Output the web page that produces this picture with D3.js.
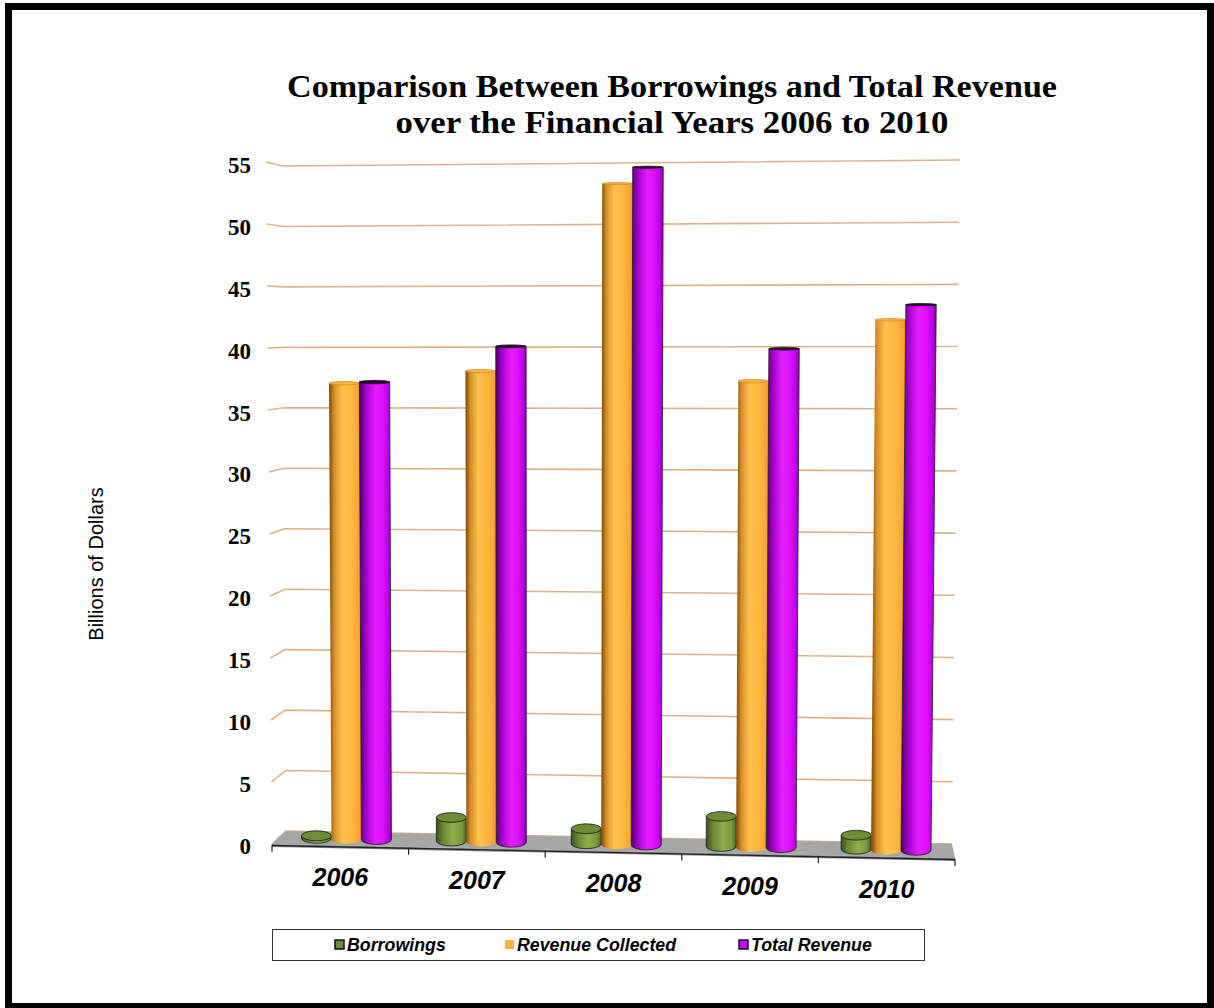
<!DOCTYPE html>
<html>
<head>
<meta charset="utf-8">
<script src="https://cdn.jsdelivr.net/npm/d3@7"></script>
<style>
  body { margin: 0; background: #fff; }
  svg { display: block; }
</style>
</head>
<body>
<div id="container"></div>
<script>
const years = ["2006", "2007", "2008", "2009", "2010"];
const seriesNames = ["Borrowings", "Revenue Collected", "Total Revenue"];
const borrowings = [0.2, 1.9, 1.2, 2.4, 1.1];
const revenueCollected = [37.1, 38.1, 53.2, 37.3, 42.2];
const totalRevenue = [37.2, 40.1, 54.5, 39.9, 43.4];
const yTicks = [0, 5, 10, 15, 20, 25, 30, 35, 40, 45, 50, 55];

const seriesValues = [borrowings, revenueCollected, totalRevenue];

const w = 1214;
const h = 1008;

const svg = d3.select("#container")
  .append("svg")
  .attr("width", w)
  .attr("height", h);

//THE FRAME
svg.append("rect")
  .attr("x", 8.5).attr("y", 6.5)
  .attr("width", 1202).attr("height", 1000)
  .attr("fill", "#fff")
  .attr("stroke", "#000")
  .attr("stroke-width", 7);

//PERSPECTIVE BOX: corners of the plot cube at value 0 and value 55
const corners = {
  fl: [[272, 844], [266, 162]],
  fr: [[955, 858], [961, 157]],
  bl: [[286, 831], [283, 166]],
  br: [[952, 844], [960, 160]]
};
const vScale = d3.scaleLinear().domain([0, 55]).range([0, 1]);
const lerp = (a, b, t) => [a[0] + (b[0] - a[0]) * t, a[1] + (b[1] - a[1]) * t];
// u = left->right (0..1), d = front->back (0..1), v = data value
function proj(u, d, v) {
  const t = vScale(v);
  const c = k => lerp(corners[k][0], corners[k][1], t);
  const f = lerp(c("fl"), c("fr"), u);
  const b = lerp(c("bl"), c("br"), u);
  return lerp(f, b, d);
}

//GRIDLINES (side wall piece + back wall)
const line = d3.line();
svg.append("g")
  .selectAll("path")
  .data(yTicks)
  .enter()
  .append("path")
  .attr("d", v => line([proj(0, 0, v), proj(0, 1, v), proj(1, 1, v)]))
  .attr("fill", "none")
  .attr("stroke", "#deb28c")
  .attr("stroke-width", 1.6);

//FLOOR
const floor = [proj(0, 0, 0), proj(1, 0, 0), proj(1, 1, 0), proj(0, 1, 0)];
svg.append("path")
  .attr("d", line(floor) + "Z")
  .attr("fill", "#a6a6a6");
// thin slab edge at the front
const fl0 = proj(0, 0, 0), fr0 = proj(1, 0, 0);
svg.append("path")
  .attr("d", line([fl0, fr0, [fr0[0], fr0[1] + 3], [fl0[0], fl0[1] + 3]]) + "Z")
  .attr("fill", "#8c8c8c");
svg.append("path")
  .attr("d", line([[fl0[0], fl0[1] + 1.5], [fr0[0], fr0[1] + 1.5]]))
  .attr("stroke", "#222")
  .attr("stroke-width", 1.3);

//CATEGORY SCALES
const x = d3.scaleBand()
  .domain(years)
  .range([0, 1])
  .paddingInner(1 / 3)
  .paddingOuter(1 / 6);
const xs = d3.scaleBand()
  .domain(seriesNames)
  .range([0, x.bandwidth()]);

// ticks between categories on the front edge
const tickU = d3.range(years.length + 1).map(i => i / years.length);
svg.append("g")
  .selectAll("path")
  .data(tickU)
  .enter()
  .append("path")
  .attr("d", u => {
    const p = proj(u, 0, 0);
    return line([[p[0], p[1] + 1], [p[0], p[1] + 8]]);
  })
  .attr("stroke", "#222")
  .attr("stroke-width", 1.2);

//GRADIENTS for the cylinders
const styles = [
  { stops: [[0, "#3c4e1f"], [0.22, "#6a8733"], [0.55, "#8fae4b"], [0.85, "#7a983d"], [1, "#4b5f26"]],
    top: "#6f8c36", stroke: "#1b1b1b", legend: "#6e8c35" },
  { stops: [[0, "#74490b"], [0.16, "#d98d25"], [0.42, "#ffc24c"], [0.75, "#ffb43c"], [0.95, "#f3a230"], [1, "#c98420"]],
    top: "#ffb43e", stroke: "none", legend: "#ffb13b" },
  { stops: [[0, "#4e0066"], [0.2, "#a000c8"], [0.5, "#e41fff"], [0.72, "#dd10ff"], [0.94, "#b000d8"], [1, "#76008f"]],
    top: "#35003f", stroke: "#1b1b1b", legend: "#cc00ff" }
];
const defs = svg.append("defs");
styles.forEach((s, i) => {
  const g = defs.append("linearGradient")
    .attr("id", "cyl" + i)
    .attr("x1", 0).attr("x2", 1).attr("y1", 0).attr("y2", 0);
  s.stops.forEach(st => g.append("stop").attr("offset", st[0]).attr("stop-color", st[1]));
});

//THE CYLINDERS
const topRy = d3.scaleLinear().domain([0, 45]).range([5, 1]).clamp(true);
const bars = [];
years.forEach((yr, j) => {
  seriesNames.forEach((s, i) => {
    const uL = x(yr) + xs(s);
    const uR = uL + xs.bandwidth();
    bars.push({ i, v: seriesValues[i][j], uL, uR });
  });
});

const barG = svg.append("g");
bars.forEach(b => {
  const depth = 0.5;
  const lb = proj(b.uL, depth, 0), rb = proj(b.uR, depth, 0);
  const lt = proj(b.uL, depth, b.v), rt = proj(b.uR, depth, b.v);
  const yb = (lb[1] + rb[1]) / 2;
  const yt = (lt[1] + rt[1]) / 2;
  const rx = (rb[0] - lb[0]) / 2;
  const ry = 5;
  const st = styles[b.i];
  barG.append("path")
    .attr("d", `M${lb[0]},${yb} L${lt[0]},${yt} L${rt[0]},${yt} L${rb[0]},${yb} A${rx},${ry} 0 0 1 ${lb[0]},${yb} Z`)
    .attr("fill", `url(#cyl${b.i})`)
    .attr("stroke", st.stroke)
    .attr("stroke-width", 0.8);
  barG.append("ellipse")
    .attr("cx", (lt[0] + rt[0]) / 2)
    .attr("cy", yt)
    .attr("rx", (rt[0] - lt[0]) / 2)
    .attr("ry", topRy(b.v))
    .attr("fill", st.top)
    .attr("stroke", st.stroke === "none" ? "#d08a22" : st.stroke)
    .attr("stroke-width", 0.8);
});

//Y AXIS LABELS (front left edge)
const yAxisScale = d3.scaleLinear().domain([0, 55]).range([846, 165]);
const yAxis = d3.axisLeft(yAxisScale)
  .tickValues(yTicks)
  .tickSize(0)
  .tickPadding(0);
const yG = svg.append("g")
  .attr("transform", "translate(251,0)")
  .call(yAxis);
yG.select(".domain").remove();
yG.selectAll("text")
  .attr("font-family", "'Liberation Serif', serif")
  .attr("font-weight", "bold")
  .attr("font-size", 23)
  .attr("fill", "#000");

//CATEGORY LABELS
svg.append("g")
  .selectAll("text")
  .data(years)
  .enter()
  .append("text")
  .attr("x", d => proj(x(d) + x.bandwidth() / 2, 0, 0)[0])
  .attr("y", d => proj(x(d) + x.bandwidth() / 2, 0, 0)[1] + 41)
  .attr("text-anchor", "middle")
  .attr("font-family", "'Liberation Sans', Arial, sans-serif")
  .attr("font-weight", "bold")
  .attr("font-style", "italic")
  .attr("font-size", 25)
  .text(d => d);

//AXIS TITLE
svg.append("text")
  .attr("transform", "translate(103,564) rotate(-90)")
  .attr("text-anchor", "middle")
  .attr("font-family", "'Liberation Sans', Arial, sans-serif")
  .attr("font-size", 20)
  .text("Billions of Dollars");

//TITLE
const titleLines = [
  { text: "Comparison Between Borrowings and Total Revenue", y: 97, len: 770 },
  { text: "over the Financial Years 2006 to 2010", y: 133, len: 553 }
];
svg.append("g")
  .selectAll("text")
  .data(titleLines)
  .enter()
  .append("text")
  .attr("x", 672)
  .attr("y", d => d.y)
  .attr("text-anchor", "middle")
  .attr("font-family", "'Liberation Serif', serif")
  .attr("font-weight", "bold")
  .attr("font-size", 32)
  .attr("textLength", d => d.len)
  .attr("lengthAdjust", "spacingAndGlyphs")
  .text(d => d.text);

//THE LEGEND
svg.append("rect")
  .attr("x", 272.5).attr("y", 929.5)
  .attr("width", 652).attr("height", 31)
  .attr("fill", "#fff")
  .attr("stroke", "#333")
  .attr("stroke-width", 1);
const legendX = [335, 505, 739];
const lg = svg.append("g")
  .selectAll("g")
  .data(seriesNames)
  .enter()
  .append("g")
  .attr("transform", (d, i) => `translate(${legendX[i]},940)`);
lg.append("rect")
  .attr("width", 9).attr("height", 9)
  .attr("fill", (d, i) => styles[i].legend)
  .attr("stroke", (d, i) => i === 1 ? "none" : "#111")
  .attr("stroke-width", 1.5);
lg.append("text")
  .attr("x", 12)
  .attr("y", 11)
  .attr("font-family", "'Liberation Sans', Arial, sans-serif")
  .attr("font-weight", "bold")
  .attr("font-style", "italic")
  .attr("font-size", 17.8)
  .text(d => d);
</script>
</body>
</html>
